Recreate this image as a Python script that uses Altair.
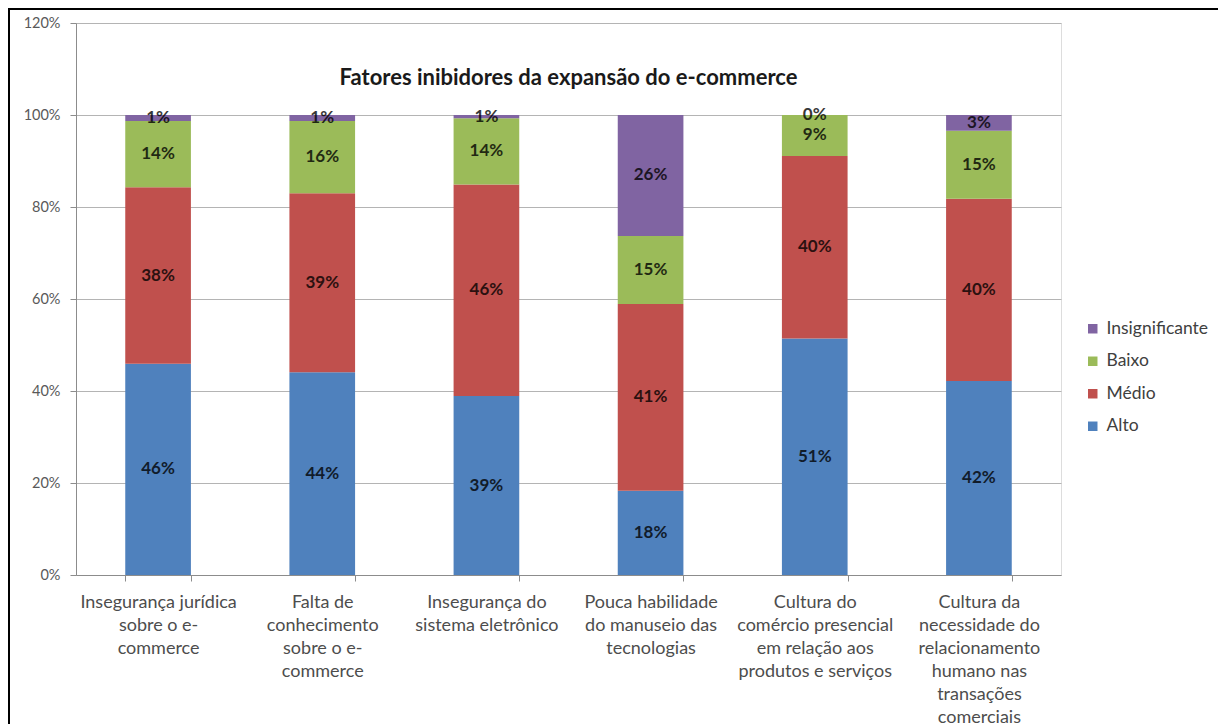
import altair as alt
import pandas as pd

categories = [
    "Insegurança jurídica\nsobre o e-\ncommerce",
    "Falta de\nconhecimento\nsobre o e-\ncommerce",
    "Insegurança do\nsistema eletrônico",
    "Pouca habilidade\ndo manuseio das\ntecnologias",
    "Cultura do\ncomércio presencial\nem relação aos\nprodutos e serviços",
    "Cultura da\nnecessidade do\nrelacionamento\nhumano nas\ntransações\ncomerciais",
]
series = ["Alto", "Médio", "Baixo", "Insignificante"]
alto = [45.9, 44.1, 38.9, 18.3, 51.4, 42.2]
medio = [38.4, 38.9, 46.0, 40.6, 39.7, 39.6]
baixo = [14.4, 15.7, 14.4, 14.8, 8.9, 14.8]
insignificante = [1.3, 1.3, 0.7, 26.3, 0.0, 3.4]
colors = ["#4F81BD", "#C0504D", "#9BBB59", "#8064A2"]
title_text = "Fatores inibidores da expansão do e-commerce"

rows = []
for s_i, (name, vals) in enumerate(zip(series, [alto, medio, baixo, insignificante])):
    for c_i, cat in enumerate(categories):
        rows.append({"cat": cat, "serie": name, "ordem": s_i, "valor": vals[c_i] / 100.0})
df = pd.DataFrame(rows)

FONT = "Lato"
W, H = 985, 552
PAD_L, PAD_T = 76, 23

legend_domain = ["Insignificante", "Baixo", "Médio", "Alto"]
legend_range = [colors[3], colors[2], colors[1], colors[0]]

base = alt.Chart(df).transform_stack(
    stack="valor", groupby=["cat"], as_=["v0", "v1"], sort=[alt.SortField("ordem", order="ascending")]
).transform_calculate(mid="(datum.v0 + datum.v1) / 2")

x_enc = alt.X(
    "cat:N",
    sort=categories,
    title=None,
    scale=alt.Scale(paddingInner=0.6, paddingOuter=0.3),
    axis=alt.Axis(
        labelAngle=0,
        labelExpr="split(datum.label, '\\n')",
        labelFont=FONT,
        labelFontSize=18,
        labelColor="#4d4d4d",
        labelLineHeight=23,
        labelBaseline="top",
        labelPadding=12,
        labelLimit=300,
        labelOverlap=False,
        tickBand="extent",
        tickSize=6,
        tickColor="#8c8c8c",
        domainColor="#8c8c8c",
        grid=False,
    ),
)

bars = base.mark_bar().encode(
    x=x_enc,
    y=alt.Y(
        "v0:Q",
        title=None,
        scale=alt.Scale(domain=[0, 1.2], nice=False),
        axis=alt.Axis(
            values=[0, 0.2, 0.4, 0.6, 0.8, 1.0, 1.2],
            format=".0%",
            labelFont=FONT,
            labelFontSize=14.5,
            labelColor="#595959",
            labelPadding=10,
            tickSize=6,
            tickColor="#8c8c8c",
            domainColor="#8c8c8c",
            gridColor="#b4b4b4",
            gridWidth=1,
        ),
    ),
    y2="v1:Q",
    color=alt.Color(
        "serie:N",
        scale=alt.Scale(domain=legend_domain, range=legend_range),
        legend=alt.Legend(
            orient="none",
            legendX=1008,
            legendY=297,
            title=None,
            symbolType="square",
            symbolSize=90,
            symbolStrokeWidth=0,
            labelFont=FONT,
            labelFontSize=17.5,
            labelColor="#404040",
            rowPadding=13.5,
            labelOffset=5,
            padding=0,
        ),
    ),
)

labels = base.mark_text(font=FONT, fontSize=17, fontWeight="bold", color="#000000", opacity=0.78).encode(
    x=alt.X("cat:N", sort=categories),
    y=alt.Y("mid:Q"),
    text=alt.Text("valor:Q", format=".0%"),
)

frame_df = pd.DataFrame({"k": [0]})
left_line = alt.Chart(frame_df).mark_rule(color="#000000", strokeWidth=2).encode(
    x=alt.value(9 - PAD_L),
    y=alt.value(8 - PAD_T),
    y2=alt.value(760 - PAD_T),
)
top_line = alt.Chart(frame_df).mark_rule(color="#000000", strokeWidth=2).encode(
    x=alt.value(9 - PAD_L),
    x2=alt.value(1218 - PAD_L),
    y=alt.value(9 - PAD_T),
)

chart = alt.layer(bars, labels, left_line, top_line).properties(
    width=W,
    height=H,
    padding={"left": PAD_L, "top": PAD_T, "right": 1221 - PAD_L - W, "bottom": 724 - PAD_T - H},
    autosize=alt.AutoSizeParams(type="none"),
    title=alt.TitleParams(
        title_text,
        font=FONT,
        fontSize=22,
        fontWeight="bold",
        color="#1a1a1a",
        anchor="middle",
        baseline="middle",
        offset=0,
        dy=93,
    ),
).configure_view(stroke=None).configure(background="#ffffff")

chart.save("out.html", embed_options={"renderer": "svg", "actions": False})
